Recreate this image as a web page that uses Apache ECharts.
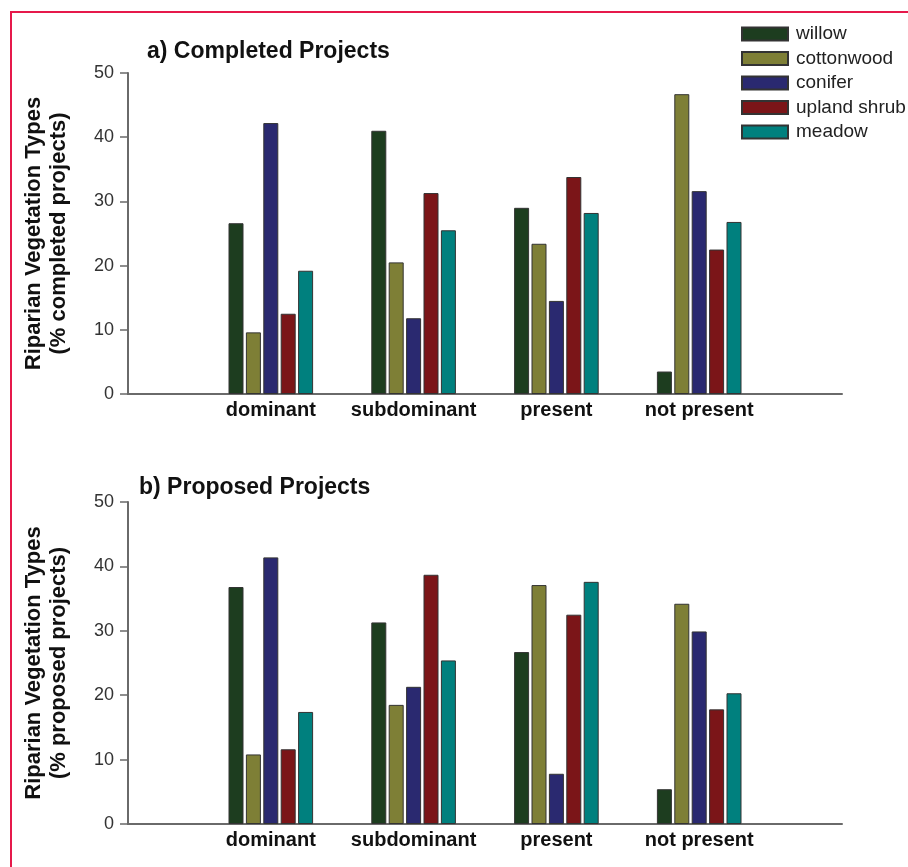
<!DOCTYPE html>
<html>
<head>
<meta charset="utf-8">
<script src="https://cdn.jsdelivr.net/npm/echarts@6/dist/echarts.min.js"></script>
<style>
  html, body { margin: 0; padding: 0; background: #fff; }
  #chart { width: 908px; height: 867px; }
</style>
</head>
<body>
<div id="chart"></div>
<script>
// Riparian vegetation types by project status
const categories = ['dominant', 'subdominant', 'present', 'not present'];
const vegTypes = ['willow', 'cottonwood', 'conifer', 'upland shrub', 'meadow'];
const vegColors = ['#1d3d1f', '#7e7f36', '#2a2970', '#7b1518', '#00807e'];
const yTicks = [0, 10, 20, 30, 40, 50];

// % of completed projects
const completedWillow     = [26.6, 41.0, 29.0, 3.5];
const completedCottonwood = [9.6, 20.5, 23.4, 46.7];
const completedConifer    = [42.2, 11.8, 14.5, 31.6];
const completedUpland     = [12.5, 31.3, 33.8, 22.5];
const completedMeadow     = [19.2, 25.5, 28.2, 26.8];

// % of proposed projects
const proposedWillow     = [36.8, 31.3, 26.7, 5.4];
const proposedCottonwood = [10.8, 18.5, 37.1, 34.2];
const proposedConifer    = [41.4, 21.3, 7.8, 29.9];
const proposedUpland     = [11.6, 38.7, 32.5, 17.8];
const proposedMeadow     = [17.4, 25.4, 37.6, 20.3];

const completed = [completedWillow, completedCottonwood, completedConifer, completedUpland, completedMeadow];
const proposed = [proposedWillow, proposedCottonwood, proposedConifer, proposedUpland, proposedMeadow];

// empty slots at both ends so the groups sit inside a longer baseline
const xCategories = [''].concat(categories, ['']);
const pad = vals => [null].concat(vals, [null]);

const FONT = '"Liberation Sans", Arial, Helvetica, sans-serif';
const AXIS_GREY = '#6a6a6a';

function xAxisFor(gridIndex) {
  return {
    type: 'category', gridIndex, data: xCategories, boundaryGap: false,
    axisLine: { show: true, lineStyle: { color: AXIS_GREY, width: 2 } },
    axisTick: { show: false },
    axisLabel: { color: '#111', fontFamily: FONT, fontWeight: 'bold', fontSize: 20, margin: 6, interval: 0 }
  };
}
function yAxisFor(gridIndex, name) {
  return {
    type: 'value', gridIndex, min: yTicks[0], max: yTicks[yTicks.length - 1], interval: 10,
    name, nameLocation: 'middle', nameGap: 57, nameRotate: 90,
    nameTextStyle: { color: '#111', fontFamily: FONT, fontWeight: 'bold', fontSize: 22, lineHeight: 25 },
    axisLine: { show: true, lineStyle: { color: AXIS_GREY, width: 2 } },
    axisTick: { show: true, length: 8, lineStyle: { color: AXIS_GREY, width: 1.5 } },
    axisLabel: { color: '#333', fontFamily: FONT, fontSize: 18, margin: 14 },
    splitLine: { show: false }
  };
}
function seriesFor(table, idx) {
  return vegTypes.map((name, i) => ({
    type: 'bar', name, xAxisIndex: idx, yAxisIndex: idx,
    data: pad(table[i]),
    barWidth: 15, barGap: '16%',
    itemStyle: { color: vegColors[i], borderColor: '#333', borderWidth: 1 }
  }));
}

const chart = echarts.init(document.getElementById('chart'), null, { renderer: 'canvas' });
chart.setOption({
  animation: false,
  backgroundColor: '#fff',
  textStyle: { fontFamily: FONT },
  title: [
    { text: 'a) Completed Projects', left: 142, top: 35,
      textStyle: { fontFamily: FONT, fontWeight: 'bold', fontSize: 23, color: '#111' } },
    { text: 'b) Proposed Projects', left: 134, top: 471,
      textStyle: { fontFamily: FONT, fontWeight: 'bold', fontSize: 23, color: '#111' } }
  ],
  legend: {
    data: vegTypes, orient: 'vertical', left: 736, top: 19,
    icon: 'rect', itemWidth: 46, itemHeight: 13, itemGap: 4.5,
    textStyle: { fontFamily: FONT, fontSize: 19, color: '#222', lineHeight: 20, padding: [0, 0, 0, 3] }
  },
  grid: [
    { left: 128, top: 73, width: 714, height: 321 },
    { left: 128, top: 502, width: 714, height: 322 }
  ],
  xAxis: [xAxisFor(0), xAxisFor(1)],
  yAxis: [
    yAxisFor(0, 'Riparian Vegetation Types\n(% completed projects)'),
    yAxisFor(1, 'Riparian Vegetation Types\n(% proposed projects)')
  ],
  series: seriesFor(completed, 0).concat(seriesFor(proposed, 1)),
  graphic: [{
    type: 'rect', silent: true, z: 100,
    shape: { x: 11, y: 12, width: 1200, height: 1200 },
    style: { fill: null, stroke: '#e6194b', lineWidth: 2 }
  }]
});
</script>
</body>
</html>
